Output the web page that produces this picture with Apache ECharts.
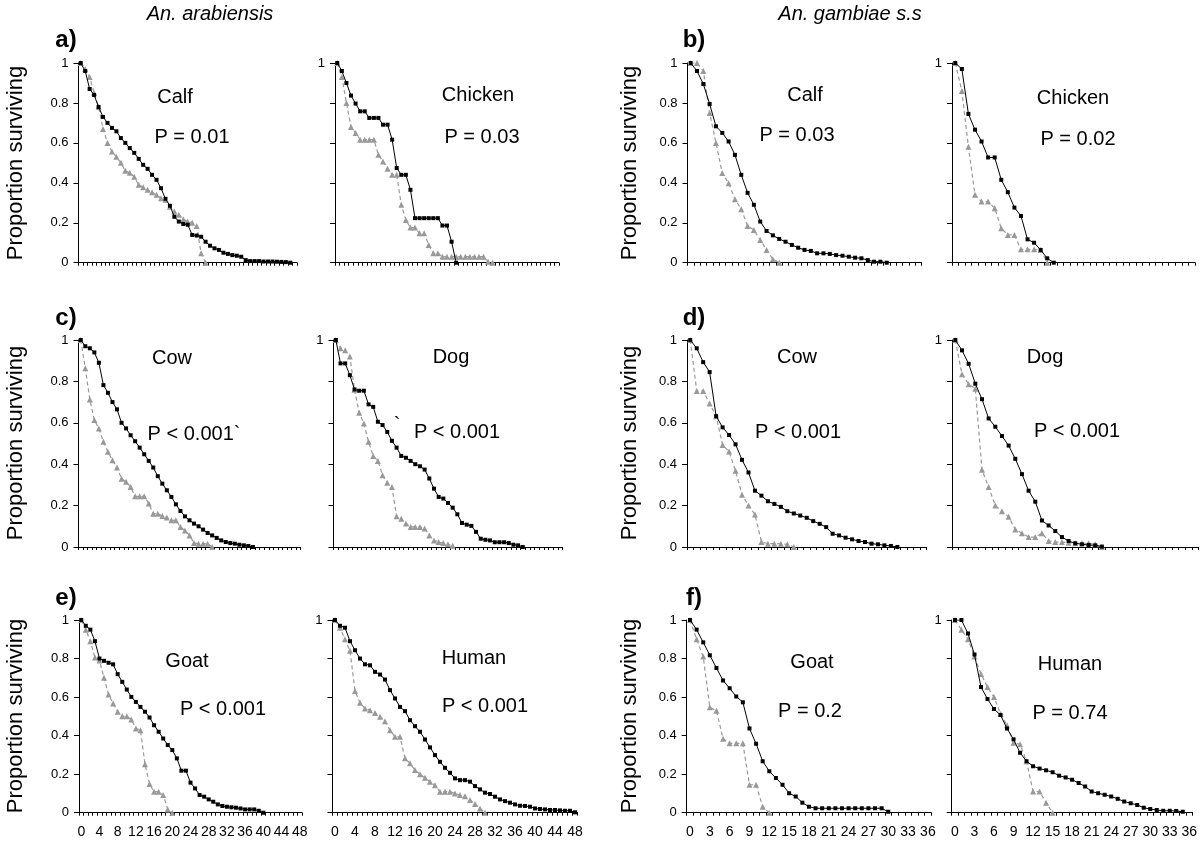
<!DOCTYPE html>
<html><head><meta charset="utf-8">
<script src="https://cdn.jsdelivr.net/npm/echarts@6/dist/echarts.min.js"></script>
<style>html,body{margin:0;padding:0;background:#fff}#c{width:1200px;height:843px}</style>
</head><body><div id="c"></div>
<script>
// ---- categories (days) ----
const daysArab = ['0','1','2','3','4','5','6','7','8','9','10','11','12','13','14','15','16','17','18','19','20','21','22','23','24','25','26','27','28','29','30','31','32','33','34','35','36','37','38','39','40','41','42','43','44','45','46','47','48'];
const daysGamb = ['0','1','2','3','4','5','6','7','8','9','10','11','12','13','14','15','16','17','18','19','20','21','22','23','24','25','26','27','28','29','30','31','32','33','34','35','36'];
const yTicks = [0, 0.2, 0.4, 0.6, 0.8, 1];

// ---- An. arabiensis ----
const arabCalfBlack = [1.0,0.96,0.87,0.84,0.78,0.73,0.70,0.675,0.658,0.624,0.60,0.574,0.55,0.52,0.49,0.47,0.44,0.415,0.373,0.32,0.285,0.23,0.206,0.194,0.19,0.139,0.136,0.13,0.105,0.085,0.072,0.064,0.05,0.044,0.038,0.035,0.03,0.013,0.008,0.008,0.008,0.006,0.006,0.006,0.005,0.004,0.003,0.0];
const arabCalfGrey = [1.0,0.97,0.93,0.85,0.78,0.67,0.60,0.557,0.53,0.50,0.46,0.45,0.43,0.39,0.378,0.365,0.353,0.34,0.323,0.315,0.28,0.256,0.24,0.218,0.206,0.20,0.184,0.047,0.0];
const arabChickenBlack = [1.0,0.96,0.90,0.837,0.797,0.758,0.758,0.725,0.725,0.725,0.691,0.691,0.616,0.474,0.44,0.44,0.365,0.223,0.223,0.223,0.223,0.223,0.223,0.186,0.186,0.105,0.0];
const arabChickenGrey = [1.0,0.93,0.80,0.68,0.65,0.616,0.616,0.616,0.616,0.54,0.507,0.47,0.44,0.44,0.29,0.214,0.176,0.176,0.147,0.147,0.089,0.047,0.047,0.03,0.03,0.03,0.03,0.03,0.03,0.03,0.03,0.03,0.03,0.005,0.0];
const arabCowBlack = [1.0,0.97,0.96,0.94,0.89,0.782,0.745,0.70,0.665,0.60,0.573,0.54,0.511,0.48,0.448,0.416,0.384,0.342,0.306,0.274,0.242,0.206,0.174,0.148,0.129,0.113,0.10,0.084,0.068,0.056,0.044,0.032,0.024,0.019,0.016,0.011,0.008,0.005,0.0];
const arabCowGrey = [1.0,0.863,0.713,0.613,0.573,0.508,0.46,0.419,0.384,0.33,0.315,0.29,0.245,0.245,0.245,0.21,0.161,0.161,0.15,0.142,0.129,0.129,0.097,0.08,0.056,0.019,0.016,0.016,0.016,0.0];
const arabDogBlack = [1.0,0.887,0.887,0.83,0.761,0.755,0.755,0.689,0.677,0.605,0.589,0.556,0.513,0.48,0.44,0.431,0.416,0.40,0.39,0.374,0.331,0.282,0.242,0.234,0.213,0.19,0.158,0.116,0.108,0.102,0.073,0.04,0.035,0.032,0.023,0.023,0.023,0.019,0.011,0.008,0.0];
const arabDogGrey = [1.0,0.96,0.95,0.92,0.76,0.648,0.597,0.508,0.44,0.416,0.347,0.31,0.29,0.148,0.137,0.113,0.097,0.097,0.097,0.089,0.056,0.032,0.024,0.019,0.013,0.006];
const arabGoatBlack = [1.0,0.97,0.95,0.89,0.80,0.788,0.778,0.77,0.719,0.679,0.639,0.601,0.575,0.549,0.524,0.494,0.454,0.42,0.385,0.351,0.325,0.282,0.218,0.218,0.156,0.126,0.092,0.083,0.069,0.057,0.043,0.035,0.031,0.028,0.026,0.022,0.017,0.017,0.017,0.01,0.0];
const arabGoatGrey = [1.0,0.95,0.89,0.805,0.79,0.70,0.613,0.567,0.524,0.50,0.50,0.484,0.437,0.428,0.252,0.149,0.109,0.109,0.092,0.017,0.0];
const arabHumanBlack = [1.0,0.97,0.96,0.89,0.843,0.80,0.77,0.765,0.731,0.717,0.691,0.636,0.593,0.549,0.527,0.48,0.449,0.42,0.38,0.339,0.299,0.264,0.233,0.207,0.178,0.169,0.169,0.161,0.138,0.121,0.104,0.097,0.083,0.069,0.06,0.052,0.043,0.036,0.035,0.031,0.022,0.019,0.017,0.014,0.014,0.012,0.01,0.01,0.002];
const arabHumanGrey = [1.0,0.96,0.90,0.84,0.632,0.57,0.541,0.532,0.518,0.498,0.475,0.428,0.394,0.394,0.282,0.256,0.221,0.199,0.181,0.161,0.143,0.109,0.109,0.109,0.10,0.092,0.086,0.066,0.045,0.022,0.0];

// ---- An. gambiae s.s ----
const gambCalfBlack = [1.0,0.96,0.895,0.795,0.683,0.65,0.607,0.54,0.44,0.35,0.29,0.206,0.159,0.137,0.119,0.105,0.089,0.075,0.064,0.059,0.047,0.047,0.044,0.038,0.035,0.03,0.025,0.022,0.013,0.005,0.005,0.0];
const gambCalfGrey = [1.0,1.0,0.96,0.75,0.60,0.449,0.398,0.318,0.268,0.184,0.164,0.114,0.064,0.017,0.0];
const gambChickenBlack = [1.0,0.97,0.745,0.666,0.607,0.527,0.527,0.415,0.353,0.276,0.234,0.117,0.10,0.064,0.022,0.0];
const gambChickenGrey = [1.0,0.86,0.58,0.34,0.306,0.306,0.273,0.172,0.139,0.139,0.067,0.067,0.067,0.064,0.0];
const gambCowBlack = [1.0,0.96,0.893,0.845,0.632,0.578,0.541,0.496,0.421,0.36,0.272,0.248,0.221,0.208,0.194,0.173,0.162,0.152,0.141,0.125,0.112,0.096,0.064,0.056,0.045,0.037,0.029,0.024,0.016,0.013,0.008,0.005,0.0];
const gambCowGrey = [1.0,0.754,0.754,0.693,0.632,0.493,0.461,0.368,0.253,0.20,0.157,0.024,0.016,0.016,0.016,0.013,0.0];
const gambDogBlack = [1.0,0.95,0.885,0.789,0.714,0.621,0.581,0.536,0.49,0.426,0.352,0.272,0.219,0.128,0.104,0.077,0.048,0.029,0.018,0.013,0.01,0.008,0.002];
const gambDogGrey = [1.0,0.834,0.786,0.765,0.373,0.29,0.20,0.173,0.146,0.085,0.066,0.048,0.048,0.066,0.029,0.024,0.024,0.021,0.018,0.018,0.018,0.013,0.0];
const gambGoatBlack = [1.0,0.95,0.884,0.817,0.751,0.686,0.646,0.603,0.573,0.437,0.358,0.267,0.215,0.18,0.145,0.101,0.084,0.052,0.031,0.023,0.023,0.023,0.023,0.023,0.023,0.023,0.023,0.023,0.023,0.023,0.005];
const gambGoatGrey = [1.0,0.90,0.81,0.547,0.529,0.384,0.36,0.36,0.36,0.145,0.145,0.031,0.0];
const gambHumanBlack = [1.0,1.0,0.93,0.821,0.652,0.59,0.538,0.507,0.437,0.381,0.311,0.267,0.241,0.229,0.22,0.21,0.192,0.183,0.171,0.154,0.136,0.11,0.101,0.093,0.084,0.072,0.058,0.049,0.04,0.026,0.019,0.014,0.01,0.01,0.009,0.005];
const gambHumanGrey = [1.0,0.95,0.90,0.81,0.72,0.652,0.60,0.512,0.454,0.363,0.355,0.267,0.11,0.11,0.052,0.0];

// ---- panel texts ----
const hostNames = ['Calf','Chicken','Calf','Chicken','Cow','Dog','Cow','Dog','Goat','Human','Goat','Human'];
const pValues = ['P = 0.01','P = 0.03','P = 0.03','P = 0.02','P < 0.001`','P < 0.001','P < 0.001','P < 0.001','P < 0.001','P < 0.001','P = 0.2','P = 0.74'];
const panelLetters = ['a)','b)','c)','d)','e)','f)'];
const speciesTitles = ['An. arabiensis','An. gambiae s.s'];
const yAxisName = 'Proportion surviving';

const blackSets = [arabCalfBlack,arabChickenBlack,gambCalfBlack,gambChickenBlack,arabCowBlack,arabDogBlack,gambCowBlack,gambDogBlack,arabGoatBlack,arabHumanBlack,gambGoatBlack,gambHumanBlack];
const greySets = [arabCalfGrey,arabChickenGrey,gambCalfGrey,gambChickenGrey,arabCowGrey,arabDogGrey,gambCowGrey,gambDogGrey,arabGoatGrey,arabHumanGrey,gambGoatGrey,gambHumanGrey];

// ---- layout ----
const rowBox = [{top:63,height:199.7},{top:340,height:207},{top:620,height:192.7}];
const colBox = [
  [{left:78.5,width:218.5},{left:335,width:224},{left:687.5,width:234},{left:952,width:243}],
  [{left:78.5,width:222},{left:333.5,width:229},{left:687,width:239.5},{left:952,width:246.5}],
  [{left:79,width:223},{left:332.5,width:245},{left:686.7,width:244.5},{left:951.7,width:246.5}]
];
const hostPos = [[175,97],[478,95],[805,95],[1073,98],[172,358],[451,357],[797,357],[1045,357],[187,661],[474,658],[812,662],[1070,664]];
const pPos = [[192,137],[482,137],[797,135],[1078,139],[194,434],[457,432],[798,432],[1077,431],[223,709],[485,706],[810,711],[1070,713]];
const FONT = '"Liberation Sans", Arial, Helvetica, sans-serif';

const grid=[], xAxis=[], yAxis=[], series=[], graphic=[];
function txt(x,y,text,font,extra){
  return Object.assign({type:'text', x:x, y:y, style:{text:text, font:font, fill:'#000', textAlign:'center', textVerticalAlign:'middle'}}, extra||{});
}
for (let i=0;i<12;i++){
  const r = Math.floor(i/4), c = i%4;
  const box = Object.assign({}, rowBox[r], colBox[r][c]);
  grid.push({left:box.left, top:box.top, width:box.width, height:box.height, containLabel:false});
  const left = c<2;
  xAxis.push({
    gridIndex:i, type:'category', boundaryGap:true, data: left?daysArab:daysGamb,
    axisLine:{lineStyle:{color:'#000',width:1}},
    axisTick:{show:true, interval:0, length:3, lineStyle:{color:'#000',width:1}},
    axisLabel:{show:r===2, interval:left?3:2, color:'#000', fontSize:14, fontFamily:FONT, margin:12},
    splitLine:{show:false}
  });
  const fullLabels = (c===0||c===2);
  yAxis.push({
    gridIndex:i, type:'value', min:yTicks[0], max:yTicks[yTicks.length-1], interval:0.2,
    axisLine:{show:true, lineStyle:{color:'#000',width:1}},
    axisTick:{show:true, length:5, lineStyle:{color:'#000',width:1}},
    axisLabel:{show:true, color:'#000', fontSize:13, fontFamily:FONT, margin:10,
      formatter: fullLabels
        ? (v=> (v===0||v===1)?String(v):v.toFixed(1))
        : (v=> v===1?'1':'')},
    splitLine:{show:false}
  });
  series.push({
    type:'line', xAxisIndex:i, yAxisIndex:i, data:greySets[i],
    symbol:'triangle', symbolSize:6, showAllSymbol:true,
    itemStyle:{color:'#999999'}, lineStyle:{color:'#999999', width:1.2, type:[4,3]},
    animation:false, silent:true, z:2
  });
  series.push({
    type:'line', xAxisIndex:i, yAxisIndex:i, data:blackSets[i],
    symbol:'rect', symbolSize:4, showAllSymbol:true,
    itemStyle:{color:'#000'}, lineStyle:{color:'#000', width:1},
    animation:false, silent:true, z:3
  });
  graphic.push(txt(hostPos[i][0], hostPos[i][1], hostNames[i], '20px '+FONT));
  graphic.push(txt(pPos[i][0], pPos[i][1], pValues[i], '20px '+FONT));
}
// stray mark near dog panel
graphic.push(txt(397, 425, '`', '20px '+FONT));
// species titles
graphic.push(txt(210, 14, speciesTitles[0], 'italic 20px '+FONT));
graphic.push(txt(850, 14, speciesTitles[1], 'italic 20px '+FONT));
// panel letters
const letterPos = [[66,40],[694,40],[66,318],[694,318],[66,598],[694,598]];
for (let k=0;k<6;k++) graphic.push(txt(letterPos[k][0], letterPos[k][1], panelLetters[k], 'bold 24px '+FONT));
// y axis names
const yNamePos = [[16,163],[630,163],[16,443],[630,443],[16,716],[630,716]];
for (const p of yNamePos) graphic.push(txt(p[0], p[1], yAxisName, '22px '+FONT, {rotation:Math.PI/2}));

const chart = echarts.init(document.getElementById('c'), null, {renderer:'canvas'});
chart.setOption({backgroundColor:'#fff', animation:false, grid, xAxis, yAxis, series, graphic});
</script>
</body></html>
